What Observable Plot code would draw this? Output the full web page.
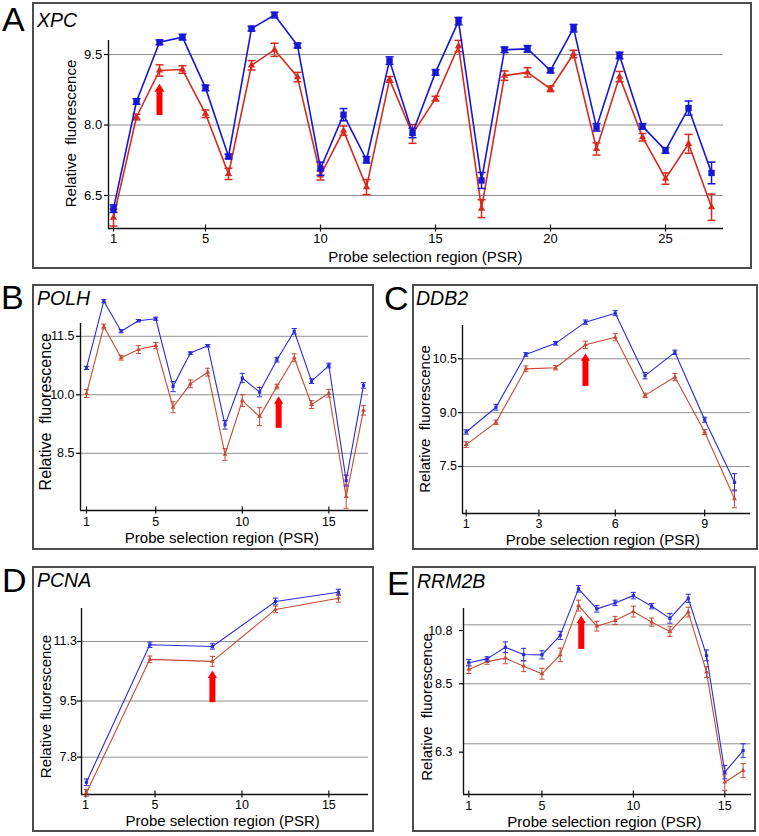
<!DOCTYPE html>
<html><head><meta charset="utf-8">
<script src="https://cdn.jsdelivr.net/npm/d3@7"></script>
<script src="https://cdn.jsdelivr.net/npm/@observablehq/plot@0.6"></script>
<style>
body{margin:0;background:#fff;}
#fig{position:relative;width:759px;height:836px;overflow:hidden;font-family:"Liberation Sans",Arial,sans-serif;}
.pl{position:absolute;}
.pl svg{display:block;}
.frame{position:absolute;box-sizing:border-box;border:2px solid #4d4d4d;}
#ov{position:absolute;left:0;top:0;}
</style></head><body><div id="fig"></div>
<script>
// ---------- DATA ----------
// Panel A: XPC
const aPSR = [1,2,3,4,5,6,7,8,9,10,11,12,13,14,15,16,17,18,19,20,21,22,23,24,25,26,27];
const aBlue = [6.22,8.5,9.76,9.87,8.79,7.33,10.05,10.34,9.69,7.07,8.22,7.26,9.37,7.83,9.12,10.21,6.82,9.6,9.62,9.16,10.06,7.95,9.48,7.97,7.46,8.36,6.98];
const aBlueErr = [0.08,0.06,0.05,0.06,0.06,0.05,0.05,0.06,0.05,0.14,0.13,0.07,0.08,0.1,0.06,0.08,0.17,0.06,0.07,0.05,0.08,0.08,0.07,0.06,0.06,0.15,0.23];
const aRed = [6.03,8.17,9.16,9.18,8.24,6.96,9.27,9.6,9.02,6.93,7.88,6.68,8.97,7.81,8.56,9.68,6.22,9.05,9.12,8.77,9.51,7.49,9.03,7.74,6.86,7.6,6.25];
const aRedErr = [0.18,0.06,0.12,0.08,0.08,0.12,0.1,0.14,0.1,0.1,0.1,0.16,0.06,0.2,0.05,0.12,0.19,0.1,0.1,0.06,0.08,0.13,0.11,0.08,0.12,0.2,0.28];
const aXTicks = [1,5,10,15,20,25];
const aXLabels = ["1","5","10","15","20","25"];
const aYTicks = [6.5,8.0,9.5];
const aYLabels = ["6.5","8.0","9.5"];
const aGrid = [6.5,8.0,9.5];
const aArrow = [3, 8.88, 8.2]; // x, tip, tail

// Panel B: POLH
const bPSR = [1,2,3,4,5,6,7,8,9,10,11,12,13,14,15,16,17];
const bBlue = [10.69,12.4,11.63,11.9,11.95,10.21,11.07,11.26,9.23,10.43,10.07,10.9,11.63,10.35,10.75,7.8,10.24];
const bBlueErr = [0.04,0.04,0.04,0.03,0.04,0.13,0.03,0.03,0.11,0.12,0.12,0.06,0.07,0.06,0.06,0.14,0.07];
const bRed = [10.03,11.75,10.95,11.16,11.26,9.68,10.28,10.58,8.47,9.85,9.44,10.21,10.95,9.75,10.04,7.39,9.6];
const bRedErr = [0.1,0.06,0.06,0.1,0.08,0.14,0.1,0.1,0.15,0.15,0.23,0.06,0.1,0.1,0.1,0.3,0.12];
const bXTicks = [1,5,10,15];
const bXLabels = ["1","5","10","15"];
const bYTicks = [8.5,10.0,11.5];
const bYLabels = ["8.5","10.0","11.5"];
const bGrid = [8.5,10.0,11.5];
const bArrow = [12.1, 9.96, 9.14];

// Panel C: DDB2
const cPSR = [1,2,3,4,5,6,7,8,9,10];
const cBlue = [8.46,9.15,10.62,10.93,11.52,11.77,10.03,10.68,8.8,7.06];
const cBlueErr = [0.06,0.08,0.05,0.05,0.06,0.07,0.09,0.06,0.07,0.24];
const cRed = [8.11,8.73,10.22,10.25,10.89,11.1,9.48,9.99,8.46,6.6];
const cRedErr = [0.08,0.06,0.08,0.06,0.1,0.1,0.06,0.1,0.07,0.25];
const cXTicks = [1,3.44,6,9];
const cXLabels = ["1","3","6","9"];
const cYTicks = [7.5,9.0,10.5];
const cYLabels = ["7.5","9.0","10.5"];
const cGrid = [7.5,9.0,10.5];
const cArrow = [5, 10.65, 9.73];

// Panel D: PCNA
const dPSR = [1.05,4.7,8.3,11.93,15.55];
const dBlue = [7.04,11.2,11.15,12.51,12.79];
const dBlueErr = [0.1,0.08,0.08,0.1,0.09];
const dRed = [6.72,10.76,10.7,12.27,12.61];
const dRedErr = [0.1,0.1,0.15,0.1,0.12];
const dXTicks = [1,5,10,15];
const dXLabels = ["1","5","10","15"];
const dYTicks = [7.8,9.5,11.3];
const dYLabels = ["7.8","9.5","11.3"];
const dGrid = [7.8,9.5,11.3];
const dArrow = [8.3, 10.42, 9.45];

// Panel E: RRM2B
const ePSR = [1,2,3,4,5,6,7,8,9,10,11,12,13,14,15,16];
const eBlue = [9.61,9.75,10.18,9.91,9.9,10.62,12.34,11.6,11.82,12.09,11.7,11.25,11.99,9.88,5.56,6.36];
const eBlueErr = [0.12,0.08,0.2,0.23,0.15,0.15,0.12,0.12,0.1,0.12,0.1,0.18,0.15,0.2,0.25,0.25];
const eRed = [9.36,9.65,9.78,9.48,9.2,9.9,11.72,10.96,11.17,11.5,11.11,10.76,11.48,9.26,5.19,5.62];
const eRedErr = [0.15,0.1,0.21,0.2,0.2,0.25,0.2,0.18,0.15,0.2,0.15,0.18,0.18,0.2,0.3,0.26];
const eXTicks = [1,5,10,15];
const eXLabels = ["1","5","10","15"];
const eYTicks = [6.3,8.83,10.8];
const eYLabels = ["6.3","8.5","10.8"];
const eGrid = [6.61,8.83,11.01];
const eArrow = [7.15, 11.35, 10.1];

// ---------- RENDER ----------
const fig = document.getElementById("fig");
const FONT = '"Liberation Sans", Arial, sans-serif';
const capSym = {draw(ctx, size){ const r = Math.sqrt(size/Math.PI); ctx.moveTo(-r,0); ctx.lineTo(r,0);} };
const headSym = {draw(ctx, size){ const r = Math.sqrt(size/Math.PI); ctx.moveTo(-r,0); ctx.lineTo(r,0); ctx.lineTo(0,-1.6*r); ctx.closePath();} };

function drawPanel(p){
  const ppy = (p.h - p.mt - p.mb) / (p.yDom[1] - p.yDom[0]);
  const rows = (v, e) => p.x.map((x, i) => ({x, y: v[i], lo: v[i]-e[i], hi: v[i]+e[i]}));
  const B = rows(p.blue, p.blueErr), R = rows(p.red, p.redErr);
  const xLab = new Map(p.xTicks.map((t,i)=>[t, p.xLabels[i]]));
  const yLab = new Map(p.yTicks.map((t,i)=>[t, p.yLabels[i]]));
  const half = 3.5/ppy;
  const headH = 1.6*p.headR/ppy;
  const arrow = [{x: p.arrow[0], tip: p.arrow[1], tail: p.arrow[2]}];
  const series = (D, color, sym, r) => [
    Plot.line(D, {x:"x", y:"y", stroke: color, strokeWidth: p.lw}),
    Plot.ruleX(D, {x:"x", y1:"lo", y2:"hi", stroke: color, strokeWidth: p.ew}),
    Plot.dot(D, {x:"x", y:"lo", symbol: capSym, r: p.capR, stroke: color, strokeWidth: p.ew, fill:"none"}),
    Plot.dot(D, {x:"x", y:"hi", symbol: capSym, r: p.capR, stroke: color, strokeWidth: p.ew, fill:"none"}),
    Plot.dot(D, {x:"x", y:"y", symbol: sym, r, fill: color, stroke: "none"})
  ];
  const svg = Plot.plot({
    width: p.w, height: p.h,
    marginTop: p.mt, marginBottom: p.mb, marginLeft: p.ml, marginRight: p.mr,
    x: {domain: p.xDom}, y: {domain: p.yDom},
    style: {fontFamily: FONT, color: "#000", background: "transparent", overflow: "visible"},
    marks: [
      Plot.ruleY(p.grid, {stroke: "#8f8f8f", strokeWidth: 1}),
      Plot.ruleX([p.xDom[0]], {stroke: "#111", strokeWidth: 1.4}),
      Plot.ruleY([p.yDom[0]], {stroke: "#111", strokeWidth: 1.4}),
      Plot.ruleX(p.xTicks, {x: d=>d, y1: p.yDom[0]-half, y2: p.yDom[0]+half, stroke: "#111", strokeWidth: 1.2}),
      Plot.axisX({ticks: p.xTicks, tickSize: 0, tickPadding: p.xPad, tickFormat: d=>xLab.get(d), fontSize: p.fs, label: null}),
      Plot.axisY({ticks: p.yTicks, tickSize: 4, tickPadding: p.yPad, tickFormat: d=>yLab.get(d), fontSize: p.fs, label: null, strokeWidth: 1.2}),
      ...series(R, p.redC, "triangle", p.triR),
      ...series(B, p.blueC, "square", p.sqR),
      Plot.ruleX(arrow, {x:"x", y1:"tail", y2: d=>d.tip-0.85*headH, stroke:"#ff0000", strokeWidth: 6}),
      Plot.dot(arrow, {x:"x", y: d=>d.tip-headH, symbol: headSym, r: p.headR, fill:"#ff0000", stroke:"none"})
    ]
  });
  const wrap = document.createElement("div");
  wrap.className = "pl";
  wrap.style.left = p.left + "px";
  wrap.style.top = p.top + "px";
  wrap.appendChild(svg);
  fig.appendChild(wrap);
  const fr = document.createElement("div");
  fr.className = "frame";
  fr.style.left = (p.left-1) + "px"; fr.style.top = (p.top-1) + "px";
  fr.style.width = (p.w+2) + "px"; fr.style.height = (p.h+2) + "px";
  fig.appendChild(fr);
}

const bigStyle = {lw:1.6, ew:1.5, capR:4, sqR:3.6, triR:2.7, headR:5, fs:13,
  blueC:"#1616d6", redC:"#d62a1e"};
const smallStyle = {lw:1.1, ew:1, capR:2.6, sqR:1.8, triR:1.8, headR:4.6, fs:12.5,
  blueC:"#2b2bd8", redC:"#c64a36"};

drawPanel({...bigStyle, left:33, top:3, w:718, h:265, mt:37, mb:40, ml:75, mr:28,
  xDom:[0.783,27.52], yDom:[5.798,9.798], xPad:5, yPad:2.3,
  x:aPSR, blue:aBlue, blueErr:aBlueErr, red:aRed, redErr:aRedErr,
  xTicks:aXTicks, xLabels:aXLabels, yTicks:aYTicks, yLabels:aYLabels, grid:aGrid, arrow:aArrow});
drawPanel({...smallStyle, left:33, top:285, w:340, h:264, mt:38, mb:39, ml:47, mr:5,
  xDom:[0.653,17.29], yDom:[7.033,11.828], xPad:7, yPad:2,
  x:bPSR, blue:bBlue, blueErr:bBlueErr, red:bRed, redErr:bRedErr,
  xTicks:bXTicks, xLabels:bXLabels, yTicks:bYTicks, yLabels:bYLabels, grid:bGrid, arrow:bArrow});
drawPanel({...smallStyle, left:413, top:285, w:344, h:264, mt:40, mb:36, ml:49, mr:7,
  xDom:[0.876,10.537], yDom:[6.19,11.427], xPad:6, yPad:1.5,
  x:cPSR, blue:cBlue, blueErr:cBlueErr, red:cRed, redErr:cRedErr,
  xTicks:cXTicks, xLabels:cXLabels, yTicks:cYTicks, yLabels:cYLabels, grid:cGrid, arrow:cArrow});
drawPanel({...smallStyle, left:33, top:567, w:340, h:264, mt:41, mb:37, ml:48, mr:5,
  xDom:[0.77,17.28], yDom:[6.672,12.298], xPad:5.7, yPad:0.5,
  x:dPSR, blue:dBlue, blueErr:dBlueErr, red:dRed, redErr:dRedErr,
  xTicks:dXTicks, xLabels:dXLabels, yTicks:dYTicks, yLabels:dYLabels, grid:dGrid, arrow:dArrow});
drawPanel({...smallStyle, left:413, top:567, w:342, h:264, mt:41, mb:37, ml:50, mr:4,
  xDom:[0.71,16.46], yDom:[4.735,11.614], xPad:6.5, yPad:7,
  x:ePSR, blue:eBlue, blueErr:eBlueErr, red:eRed, redErr:eRedErr,
  xTicks:eXTicks, xLabels:eXLabels, yTicks:eYTicks, yLabels:eYLabels, grid:eGrid, arrow:eArrow});

// ---------- TEXT OVERLAY ----------
const letters = ["A","B","C","D","E"];
const letterPos = [[2,31],[1,309],[384,310],[2,592],[387,595]];
const genes = ["XPC","POLH","DDB2","PCNA","RRM2B"];
const genePos = [[37,26.5],[37,305],[416,305],[37,587],[417,588]];
const xTitle = "Probe selection region (PSR)";
const xTitlePos = [[425.5,256],[222,537],[603,539],[222.7,820],[604.5,821]];
const yTitles = ["Relative  fluorescence","Relative  fluorescence","Relative  fluorescence","Relative fluorescence","Relative  fluorescence"];
const yTitlePos = [[70,133.5],[45,411.7],[424.3,419],[45,706.5],[426.7,707]];
const yTitleSize = [15,16,15,15,15];

const ov = d3.select("#fig").append("svg").attr("id","ov").attr("width",759).attr("height",836)
  .style("font-family", FONT);
ov.selectAll("text.l").data(letters).join("text").attr("class","l")
  .attr("x",(d,i)=>letterPos[i][0]).attr("y",(d,i)=>letterPos[i][1])
  .attr("font-size",34).text(d=>d);
ov.selectAll("text.g").data(genes).join("text").attr("class","g")
  .attr("x",(d,i)=>genePos[i][0]).attr("y",(d,i)=>genePos[i][1])
  .attr("font-size",19.5).attr("font-style","italic").text(d=>d);
ov.selectAll("text.xt").data(xTitlePos).join("text").attr("class","xt")
  .attr("x",d=>d[0]).attr("y",d=>d[1]).attr("text-anchor","middle").attr("dominant-baseline","central")
  .attr("font-size",15).text(xTitle);
ov.selectAll("text.yt").data(yTitles).join("text").attr("class","yt")
  .attr("transform",(d,i)=>`translate(${yTitlePos[i][0]},${yTitlePos[i][1]}) rotate(-90)`)
  .attr("text-anchor","middle").attr("dominant-baseline","central")
  .attr("font-size",(d,i)=>yTitleSize[i]).style("white-space","pre").text(d=>d);
</script></body></html>
